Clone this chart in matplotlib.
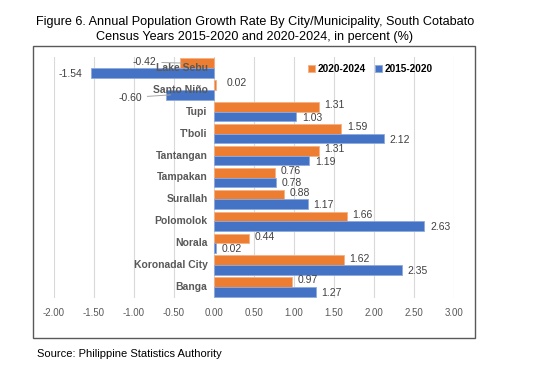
import matplotlib.pyplot as plt
import numpy as np
from matplotlib.patches import Rectangle

plt.rcParams['font.family'] = ['Liberation Sans', 'DejaVu Sans']

# Data (top to bottom as shown)
cities = ['Lake Sebu', 'Santo Niño', 'Tupi', "T'boli", 'Tantangan', 'Tampakan',
          'Surallah', 'Polomolok', 'Norala', 'Koronadal City', 'Banga']
rate_2020_2024 = [-0.42, 0.02, 1.31, 1.59, 1.31, 0.76, 0.88, 1.66, 0.44, 1.62, 0.97]
rate_2015_2020 = [-1.54, -0.60, 1.03, 2.12, 1.19, 0.78, 1.17, 2.63, 0.02, 2.35, 1.27]
xticks = [-2.0, -1.5, -1.0, -0.5, 0.0, 0.5, 1.0, 1.5, 2.0, 2.5, 3.0]

orange = '#ED7D31'
blue = '#4472C4'
txt = '#404040'

W, H = 542, 367
fig = plt.figure(figsize=(W / 100, H / 100), dpi=100)

# chart frame
fig.patches.append(Rectangle((33 / W, 1 - 338 / H), (475 - 33) / W, (338 - 46) / H,
                             transform=fig.transFigure, fill=False,
                             edgecolor='#595959', linewidth=1.0))

ax = fig.add_axes([54 / W, 1 - 298 / H, 400 / W, (298 - 57) / H])

n = len(cities)
y = np.arange(n)
h = 0.44
ax.barh(y - h / 2, rate_2020_2024, height=h, color=orange, edgecolor='#F4B183',
        linewidth=0.6, label='2020-2024', zorder=2)
ax.barh(y + h / 2, rate_2015_2020, height=h, color=blue, edgecolor='#8FAADC',
        linewidth=0.6, label='2015-2020', zorder=2)

ax.set_xlim(-2.0, 3.0)
ax.set_ylim(n - 0.5, -0.5)
ax.set_xticks(xticks)
ax.set_xticklabels([f'{t:.2f}' for t in xticks], fontsize=7, color='#595959')
ax.tick_params(axis='x', length=0, pad=7)
ax.set_yticks([])
ax.grid(axis='x', color='#D9D9D9', linewidth=0.8, zorder=0)
for s in ax.spines.values():
    s.set_visible(False)

# category labels next to zero line
for i, c in enumerate(cities):
    ax.text(-0.08, i, c, ha='right', va='center', fontsize=7.5,
            fontweight='bold', color='#595959', zorder=3)

# data labels
def label(val, ypos, special=None):
    if special is not None:
        tx, ty = special
        ax.annotate(f'{val:.2f}', xy=(val * 0.85, ypos), xytext=(tx, ty),
                    textcoords='data', ha='center', va='center', fontsize=7.5,
                    color=txt, zorder=4,
                    arrowprops=dict(arrowstyle='-', color='#A6A6A6', lw=0.7))
    elif val < 0:
        ax.annotate(f'{val:.2f}', xy=(val, ypos), xytext=(-6, 0),
                    textcoords='offset points', ha='right', va='center',
                    fontsize=7.5, color=txt)
    else:
        ax.annotate(f'{val:.2f}', xy=(val, ypos), xytext=(4, 0),
                    textcoords='offset points', ha='left', va='center',
                    fontsize=7.5, color=txt)

for i in range(n):
    yo = i - h / 2 - 0.08
    yb = i + h / 2 + 0.05
    if i == 0:
        label(rate_2020_2024[i], i - h / 2, special=(-0.87, -0.27))
        label(rate_2015_2020[i], yb)
    elif i == 1:
        ax.annotate(f'{rate_2020_2024[i]:.2f}', xy=(rate_2020_2024[i], yo),
                    xytext=(8, 0), textcoords='offset points', ha='left',
                    va='center', fontsize=7.5, color=txt)
        label(rate_2015_2020[i], i + h / 2, special=(-1.05, i + 0.35))
    else:
        label(rate_2020_2024[i], yo)
        label(rate_2015_2020[i], yb)

leg = ax.legend(loc='upper right', bbox_to_anchor=(0.965, 1.0), ncol=2,
                frameon=False, fontsize=7.2, handlelength=0.7, handleheight=0.7,
                handletextpad=0.3, columnspacing=0.9, borderaxespad=0.3)
for t in leg.get_texts():
    t.set_fontweight('bold')
    t.set_color('#000000')

fig.text(255 / W, 1 - 22 / H,
         'Figure 6. Annual Population Growth Rate By City/Municipality, South Cotabato',
         ha='center', va='center', fontsize=9.1, color='#000000')
fig.text(255 / W, 1 - 37 / H,
         'Census Years 2015-2020 and 2020-2024, in percent (%)',
         ha='center', va='center', fontsize=9.1, color='#000000')
fig.text(37 / W, 1 - 354 / H, 'Source: Philippine Statistics Authority',
         ha='left', va='center', fontsize=8, color='#000000')

fig.savefig('out.png', dpi=100)
